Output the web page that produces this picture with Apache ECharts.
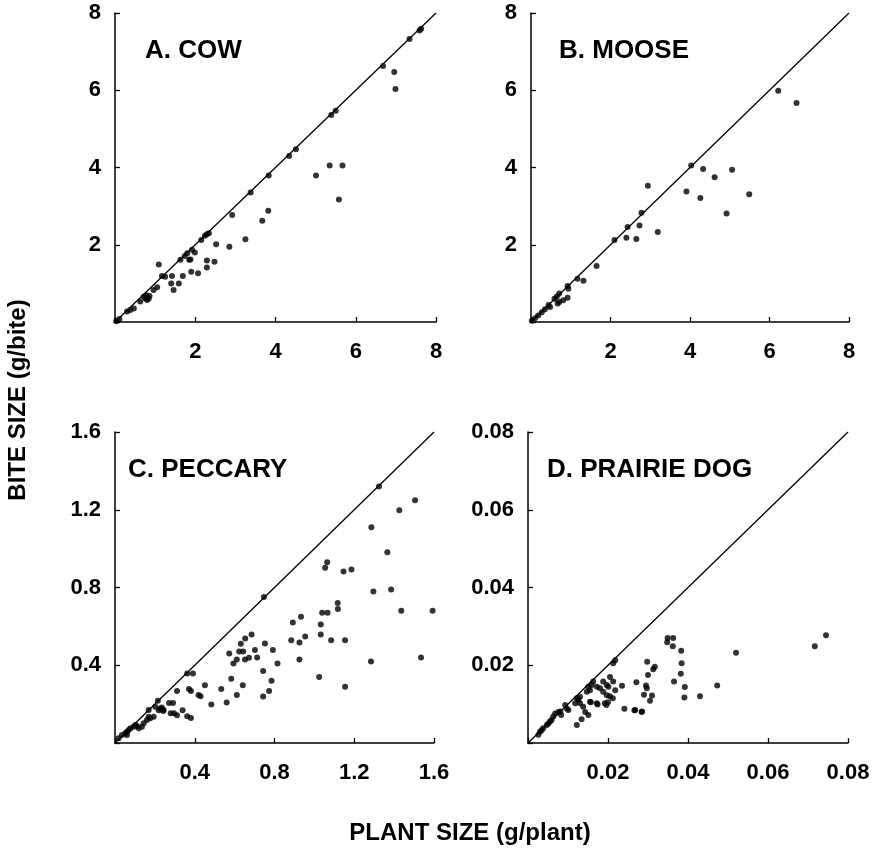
<!DOCTYPE html>
<html><head><meta charset="utf-8">
<script src="https://cdn.jsdelivr.net/npm/echarts@6/dist/echarts.min.js"></script>
<style>html,body{margin:0;padding:0;background:#fff}#c{width:874px;height:855px}</style>
</head><body><div id="c"></div>
<script>
// Panel titles and axis titles
const panelTitles = ['A. COW', 'B. MOOSE', 'C. PECCARY', 'D. PRAIRIE DOG'];
const xTitle = 'PLANT SIZE (g/plant)';
const yTitle = 'BITE SIZE (g/bite)';
// Axis ranges [max, interval]
const axisMax = [8, 8, 1.6, 0.08];
const axisStep = [2, 2, 0.4, 0.02];

// A. COW  [plant size, bite size]
const cow = [[0.03,0.02],[0.11,0.08],[0.30,0.27],[0.38,0.31],[0.47,0.35],[0.63,0.53],[0.72,0.66],[0.80,0.57],[0.84,0.61],[0.76,0.61],[0.79,0.69],[0.86,0.67],[0.96,0.83],[1.05,0.90],[1.09,1.49],[1.17,1.19],[1.25,1.17],[1.42,1.19],[1.40,1.00],[1.46,0.83],[1.59,1.00],[1.69,1.19],[1.63,1.61],[1.74,1.71],[1.80,1.78],[1.85,1.61],[1.88,1.62],[1.90,1.30],[1.92,1.87],[1.99,1.80],[2.07,1.26],[2.15,2.12],[2.24,2.23],[2.29,2.27],[2.34,2.30],[2.29,1.59],[2.29,1.41],[2.48,1.56],[2.52,2.01],[2.85,1.95],[2.92,2.77],[3.25,2.14],[3.38,3.35],[3.67,2.62],[3.82,2.88],[3.83,3.79],[4.34,4.30],[4.51,4.47],[5.01,3.79],[5.35,4.05],[5.67,4.05],[5.58,3.17],[5.39,5.36],[5.50,5.47],[6.68,6.63],[6.96,6.47],[6.99,6.03],[7.34,7.33],[7.59,7.55],[7.63,7.59]];

// B. MOOSE
const moose = [[0.02,0.03],[0.10,0.10],[0.18,0.17],[0.27,0.25],[0.35,0.33],[0.44,0.44],[0.48,0.39],[0.59,0.60],[0.65,0.66],[0.71,0.74],[0.67,0.48],[0.71,0.52],[0.81,0.56],[0.92,0.63],[0.92,0.93],[0.94,0.86],[1.17,1.12],[1.32,1.07],[1.65,1.45],[2.10,2.12],[2.40,2.18],[2.43,2.46],[2.65,2.15],[2.73,2.50],[2.78,2.83],[2.94,3.53],[3.19,2.33],[3.91,3.38],[4.03,4.05],[4.26,3.21],[4.33,3.96],[4.62,3.75],[4.92,2.81],[5.06,3.94],[5.49,3.31],[6.22,5.99],[6.68,5.67]];

// C. PECCARY
const peccary = [[1.324,1.32],[1.505,1.249],[1.426,1.198],[1.286,1.11],[1.366,0.981],[1.064,0.93],[1.054,0.902],[1.146,0.882],[1.186,0.892],[0.747,0.751],[1.296,0.78],[1.385,0.79],[1.117,0.72],[1.118,0.69],[1.436,0.68],[1.593,0.68],[1.039,0.67],[1.066,0.67],[0.892,0.62],[0.933,0.65],[1.032,0.61],[0.954,0.548],[0.884,0.528],[0.925,0.517],[1.032,0.558],[1.084,0.528],[1.154,0.528],[0.925,0.43],[1.284,0.419],[1.535,0.44],[1.024,0.34],[1.154,0.29],
[0.685,0.558],[0.653,0.538],[0.631,0.51],[0.702,0.478],[0.672,0.438],[0.652,0.43],[0.623,0.471],[0.643,0.471],[0.611,0.43],[0.594,0.409],[0.573,0.46],[0.713,0.44],[0.752,0.512],[0.792,0.479],[0.815,0.409],[0.743,0.37],[0.785,0.32],[0.773,0.268],[0.743,0.239],[0.583,0.33],[0.641,0.297],[0.611,0.247],[0.533,0.278],[0.56,0.208],[0.451,0.297],[0.483,0.198],[0.419,0.247],[0.429,0.24],[0.362,0.357],[0.391,0.357],[0.371,0.278],[0.381,0.268],[0.311,0.268],[0.339,0.168],[0.362,0.137],[0.381,0.128],[0.271,0.206],[0.291,0.206],[0.279,0.153],[0.296,0.153],[0.311,0.143],[0.215,0.218],[0.235,0.182],[0.242,0.165],[0.219,0.168],
[0.018,0.024],[0.035,0.041],[0.052,0.05],[0.06,0.058],[0.069,0.067],[0.077,0.076],[0.094,0.084],[0.102,0.093],[0.11,0.087],[0.06,0.041],[0.119,0.076],[0.135,0.084],[0.144,0.101],[0.16,0.118],[0.169,0.135],[0.177,0.127],[0.194,0.135],[0.169,0.17],[0.202,0.187],[0.227,0.178],[0.244,0.17]];

// D. PRAIRIE DOG
const prairieDog = [[0.0745,0.0277],[0.0717,0.0249],[0.052,0.0232],[0.0473,0.0148],[0.043,0.012],[0.0349,0.027],[0.0363,0.027],[0.0348,0.0259],[0.0362,0.0249],[0.0383,0.0237],[0.0384,0.0205],[0.0382,0.0178],[0.0365,0.0158],[0.0392,0.0144],[0.0391,0.0117],
[0.0298,0.0209],[0.0317,0.0196],[0.0313,0.019],[0.0300,0.0175],[0.0271,0.0156],[0.0295,0.0148],[0.0297,0.0141],[0.029,0.0124],[0.031,0.0122],[0.0305,0.0109],[0.0266,0.0084],[0.0285,0.0081],[0.0241,0.0088],[0.0235,0.0147],
[0.0218,0.0213],[0.0213,0.0205],[0.0205,0.017],[0.0213,0.0158],[0.0201,0.0145],[0.0218,0.0136],[0.0205,0.012],[0.0212,0.0115],[0.02,0.0105],[0.0196,0.0098],[0.0188,0.0158],[0.0197,0.0149],[0.0188,0.0132],[0.0197,0.0123],[0.0192,0.0102],[0.0147,0.0132],[0.0151,0.0145],[0.0159,0.0149],[0.0163,0.0158],[0.0155,0.0136],[0.0172,0.0145],[0.018,0.0141],[0.0155,0.0106],[0.0172,0.0102],[0.0174,0.0099],[0.0157,0.0105],[0.0138,0.0093],[0.0143,0.008],[0.0151,0.0072],[0.0122,0.0046],[0.0134,0.0061],[0.0122,0.0115],[0.0126,0.0111],[0.013,0.0119],[0.0118,0.0102],[0.013,0.0102],[0.0093,0.0098],[0.0097,0.0089],[0.0101,0.0085],[0.0063,0.0068],[0.0068,0.0076],[0.0076,0.008],[0.0083,0.0072],[0.0081,0.0081],[0.0047,0.0046],[0.0051,0.005],[0.0055,0.0055],[0.0059,0.0059],[0.0026,0.0021],[0.003,0.0029],[0.0034,0.0033],[0.0038,0.0038],[0.0268,0.0085],[0.0284,0.008]];

const panels = [cow, moose, peccary, prairieDog];

const grids = [
  {left:115, top:13, width:321, height:309},
  {left:531, top:13, width:318, height:309},
  {left:115, top:432, width:319, height:311},
  {left:528, top:432, width:320, height:311}
];
const titlePos = [[145,38],[559,38],[128,457],[547,457]];

const FONT = 'Liberation Sans, Arial, Helvetica, sans-serif';
const fmt = v => (Math.abs(v) < 1e-9 ? '' : String(+v.toFixed(2)));

function axis(i, isX) {
  return {
    type:'value', gridIndex:i, min:0, max:axisMax[i], interval:axisStep[i],
    splitLine:{show:false},
    axisLine:{show:true, onZero:false, lineStyle:{color:'#000', width:1.5}},
    axisTick:{show:true, inside:true, length:5, lineStyle:{color:'#000', width:1.3}},
    axisLabel:{formatter:fmt, color:'#000', fontFamily:FONT, fontWeight:'bold', fontSize:22, margin: isX ? 19 : 14}
  };
}

const series = [];
panels.forEach((pts, i) => {
  series.push({type:'line', xAxisIndex:i, yAxisIndex:i, data:[[0,0],[axisMax[i],axisMax[i]]],
    symbol:'none', lineStyle:{color:'#000', width:1.3}, silent:true, z:1});
  series.push({type:'scatter', xAxisIndex:i, yAxisIndex:i, data:pts, symbol:'circle', symbolSize:6,
    itemStyle:{color:'#000'}, silent:true, z:2});
});

const chart = echarts.init(document.getElementById('c'), null, {renderer:'canvas'});
chart.setOption({
  animation:false,
  backgroundColor:'#fff',
  grid: grids.map(g => Object.assign({containLabel:false}, g)),
  xAxis: [0,1,2,3].map(i => axis(i, true)),
  yAxis: [0,1,2,3].map(i => axis(i, false)),
  title: panelTitles.map((t, i) => ({text:t, left:titlePos[i][0], top:titlePos[i][1],
    textStyle:{fontFamily:FONT, fontWeight:'bold', fontSize:26, color:'#000'}, padding:0})),
  graphic: [
    {type:'text', x:470, y:833, style:{text:xTitle, fill:'#000', font:'bold 24px ' + FONT, textAlign:'center', textVerticalAlign:'middle'}},
    {type:'text', x:18, y:400, rotation:Math.PI/2, style:{text:yTitle, fill:'#000', font:'bold 24px ' + FONT, textAlign:'center', textVerticalAlign:'middle'}}
  ],
  series: series
});
</script>
</body></html>
